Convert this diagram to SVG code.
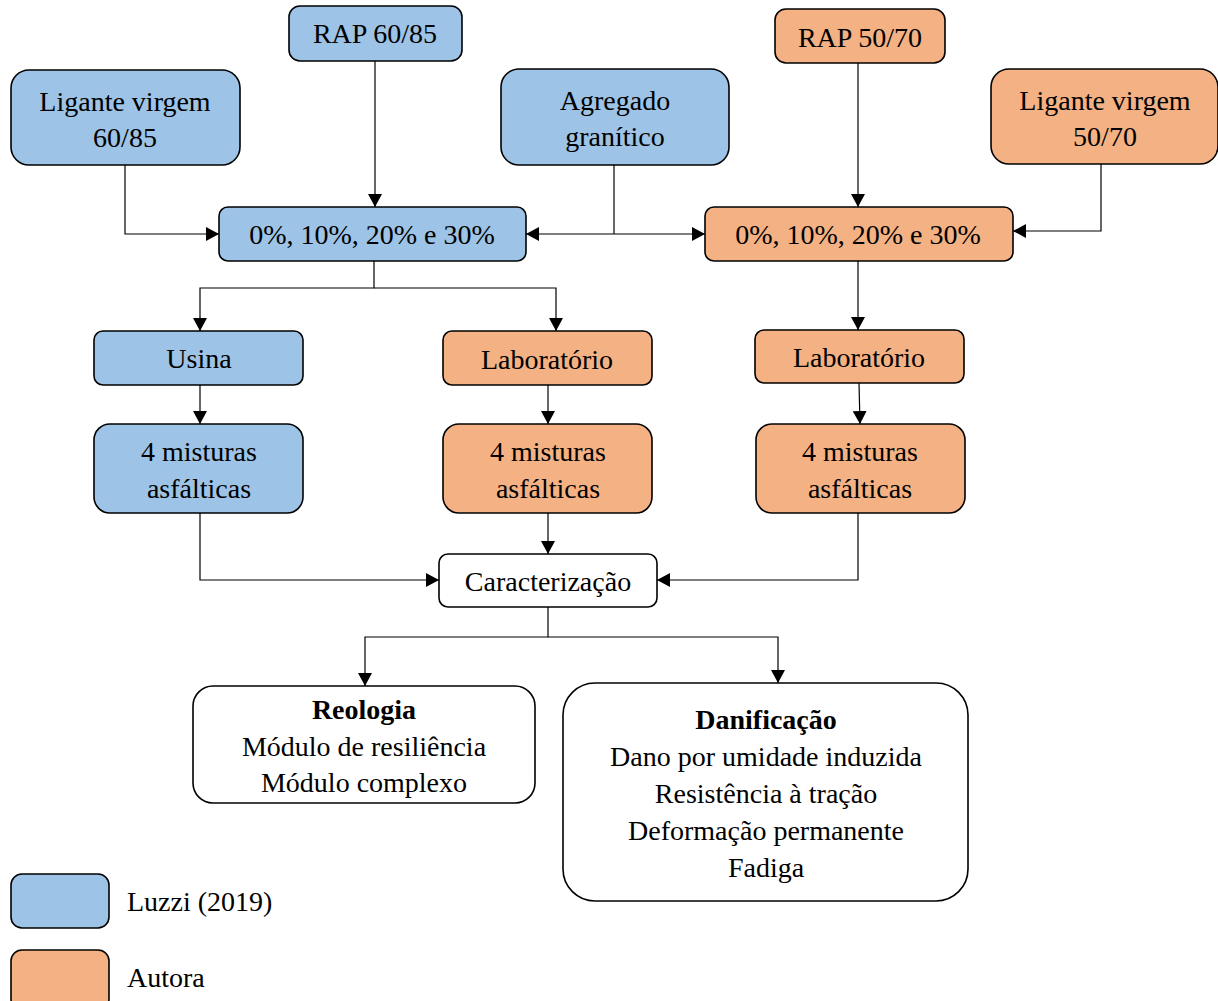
<svg xmlns="http://www.w3.org/2000/svg" width="1218" height="1001" viewBox="0 0 1218 1001">
<style>
.b{fill:#9DC3E6;stroke:#000;stroke-width:1.6}
.o{fill:#F4B183;stroke:#000;stroke-width:1.6}
.w{fill:#fff;stroke:#000;stroke-width:1.6}
text{font-family:"Liberation Serif","Times New Roman",serif;font-size:28px;fill:#000;text-anchor:middle}
.l{text-anchor:start}
.bold{font-weight:bold}
.c{fill:none;stroke:#000;stroke-width:1.2}
</style>
<defs>
<marker id="a" viewBox="0 0 10 10" refX="10" refY="5" markerWidth="13" markerHeight="14" preserveAspectRatio="none" markerUnits="userSpaceOnUse" orient="auto">
<path d="M0,0L10,5L0,10z" fill="#000"/>
</marker>
</defs>
<rect width="1218" height="1001" fill="#fff"/>
<g id="connectors">
<path class="c" d="M375,61V207" marker-end="url(#a)"/>
<path class="c" d="M125,165V234H219" marker-end="url(#a)"/>
<path class="c" d="M614,165V234"/>
<path class="c" d="M614,234H526" marker-end="url(#a)"/>
<path class="c" d="M614,234H705" marker-end="url(#a)"/>
<path class="c" d="M858,63V207" marker-end="url(#a)"/>
<path class="c" d="M1101,164V231H1013" marker-end="url(#a)"/>
<path class="c" d="M374,261V288H200V331" marker-end="url(#a)"/>
<path class="c" d="M374,288H556V331" marker-end="url(#a)"/>
<path class="c" d="M200,385V424" marker-end="url(#a)"/>
<path class="c" d="M548,385V424" marker-end="url(#a)"/>
<path class="c" d="M858,261V330" marker-end="url(#a)"/>
<path class="c" d="M859,383L860,424" marker-end="url(#a)"/>
<path class="c" d="M200,513V580H439" marker-end="url(#a)"/>
<path class="c" d="M548,513V554" marker-end="url(#a)"/>
<path class="c" d="M858,513V580H657" marker-end="url(#a)"/>
<path class="c" d="M548,607V637H365V686" marker-end="url(#a)"/>
<path class="c" d="M548,637H778V683" marker-end="url(#a)"/>
</g>
<g id="rap6085"><rect class="b" x="289" y="6" width="173" height="55" rx="11"/><text x="375" y="43">RAP 60/85</text></g>
<g id="lig6085"><rect class="b" x="11" y="70" width="229" height="95" rx="18"/><text x="125" y="111">Ligante virgem</text><text x="125" y="147">60/85</text></g>
<g id="agregado"><rect class="b" x="501" y="69" width="228" height="96" rx="18"/><text x="615" y="110">Agregado</text><text x="615" y="146">granítico</text></g>
<g id="rap5070"><rect class="o" x="775" y="9" width="170" height="54" rx="11"/><text x="860" y="47">RAP 50/70</text></g>
<g id="lig5070"><rect class="o" x="991" y="69" width="227" height="95" rx="18"/><text x="1105" y="110">Ligante virgem</text><text x="1105" y="146">50/70</text></g>
<g id="teorB"><rect class="b" x="219" y="207" width="307" height="54" rx="9"/><text x="372" y="244">0%, 10%, 20% e 30%</text></g>
<g id="teorO"><rect class="o" x="705" y="207" width="308" height="54" rx="9"/><text x="858" y="244">0%, 10%, 20% e 30%</text></g>
<g id="usina"><rect class="b" x="94" y="331" width="209" height="54" rx="9"/><text x="199" y="368">Usina</text></g>
<g id="lab1"><rect class="o" x="443" y="331" width="209" height="54" rx="9"/><text x="547" y="369">Laboratório</text></g>
<g id="lab2"><rect class="o" x="755" y="330" width="209" height="53" rx="9"/><text x="859" y="367">Laboratório</text></g>
<g id="mist1"><rect class="b" x="94" y="424" width="209" height="89" rx="16"/><text x="199" y="461">4 misturas</text><text x="199" y="498">asfálticas</text></g>
<g id="mist2"><rect class="o" x="443" y="424" width="209" height="89" rx="16"/><text x="548" y="461">4 misturas</text><text x="548" y="498">asfálticas</text></g>
<g id="mist3"><rect class="o" x="756" y="424" width="209" height="89" rx="16"/><text x="860" y="461">4 misturas</text><text x="860" y="498">asfálticas</text></g>
<g id="caract"><rect class="w" x="439" y="554" width="218" height="53" rx="9"/><text x="548" y="591">Caracterização</text></g>
<g id="reologia"><rect class="w" x="193" y="686" width="342" height="117" rx="20"/><text class="bold" x="364" y="719">Reologia</text><text x="364" y="756">Módulo de resiliência</text><text x="364" y="792">Módulo complexo</text></g>
<g id="danificacao"><rect class="w" x="563" y="683" width="405" height="218" rx="32"/><text class="bold" x="766" y="729">Danificação</text><text x="766" y="766">Dano por umidade induzida</text><text x="766" y="803">Resistência à tração</text><text x="766" y="840">Deformação permanente</text><text x="766" y="877">Fadiga</text></g>
<g id="legend">
<rect class="b" x="11" y="874" width="98" height="54" rx="11"/><text class="l" x="127" y="911">Luzzi (2019)</text>
<rect class="o" x="11" y="950" width="98" height="60" rx="11"/><text class="l" x="127" y="987">Autora</text>
</g>
</svg>
